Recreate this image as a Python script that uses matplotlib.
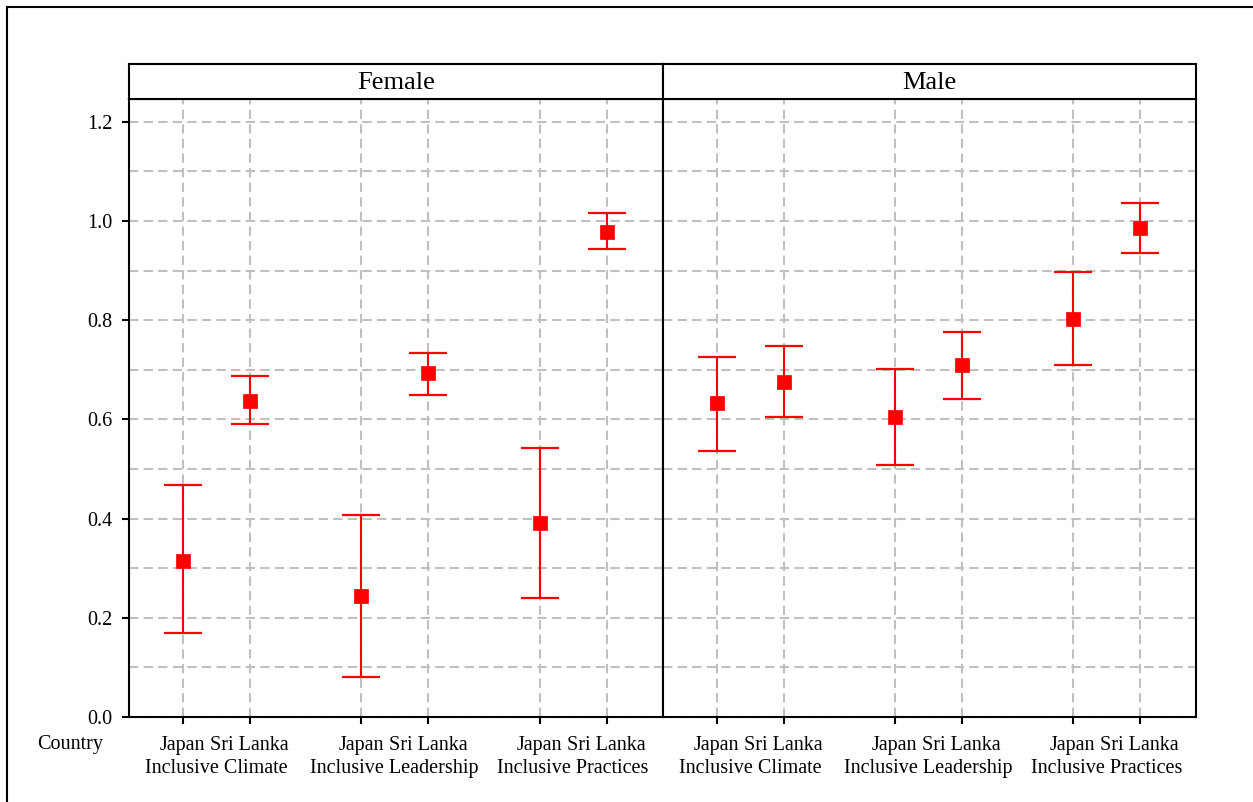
import numpy as np
import matplotlib
matplotlib.use("Agg")
import matplotlib.pyplot as plt
from matplotlib.lines import Line2D

plt.rcParams['font.family'] = ['Liberation Serif', 'DejaVu Serif']

# ---- data ----
panels = ["Female", "Male"]
categories = ["Inclusive Climate", "Inclusive Leadership", "Inclusive Practices"]
countries = ["Japan", "Sri Lanka"]

female_mean = [0.315, 0.638, 0.244, 0.693, 0.391, 0.978]
female_lower = [0.169, 0.591, 0.081, 0.650, 0.240, 0.944]
female_upper = [0.467, 0.688, 0.407, 0.734, 0.542, 1.016]

male_mean = [0.634, 0.675, 0.604, 0.709, 0.802, 0.986]
male_lower = [0.537, 0.604, 0.508, 0.642, 0.709, 0.936]
male_upper = [0.726, 0.747, 0.701, 0.776, 0.898, 1.036]

y_ticks = [0.0, 0.2, 0.4, 0.6, 0.8, 1.0, 1.2]
y_tick_labels = ["0.0", "0.2", "0.4", "0.6", "0.8", "1.0", "1.2"]

series = {
    "Female": (female_mean, female_lower, female_upper),
    "Male": (male_mean, male_lower, male_upper),
}

W, H = 1253, 802
fig = plt.figure(figsize=(W / 100, H / 100), dpi=100)

# positions
group_gap = 2.66
xpos = []
for g in range(len(categories)):
    for c in range(len(countries)):
        xpos.append(g * group_gap + c)
xpos = np.array(xpos)
xlim = (-0.80, 7.16)
ylim = (0.0, 1.246)

RED = "#ff0000"
GRID = "#c0c0c0"

panel_px = [(129, 663), (663, 1196)]
top_px, bot_px = 99, 717
strip_top_px = 64

for i, (name, (x0, x1)) in enumerate(zip(panels, panel_px)):
    ax = fig.add_axes([x0 / W, 1 - bot_px / H, (x1 - x0) / W, (bot_px - top_px) / H])
    mean, lo, hi = series[name]
    mean = np.array(mean); lo = np.array(lo); hi = np.array(hi)
    line, caps, bars = ax.errorbar(xpos, mean, yerr=[mean - lo, hi - mean], fmt='s',
                                   color=RED, ecolor=RED, elinewidth=1.5, capsize=13.5,
                                   capthick=1.6, markersize=10.5, zorder=3)
    line.set_markeredgewidth(0.5)
    ax.set_xlim(*xlim)
    ax.set_ylim(*ylim)
    ax.set_yticks(y_ticks)
    ax.set_yticks(np.round(np.arange(0.1, 1.21, 0.2), 2), minor=True)
    ax.set_xticks(xpos)
    ax.set_xticklabels(countries * len(categories), fontsize=14.5)
    ax.set_axisbelow(True)
    ax.grid(True, which='both', axis='both', color=GRID, linestyle=(0, (4.5, 2.5)),
            linewidth=1.5)
    ax.tick_params(axis='x', direction='out', length=5, width=1.5, pad=8.5)
    ax.tick_params(axis='y', which='major', direction='out', length=5, width=1.5, pad=7,
                   labelsize=14.5)
    ax.tick_params(axis='y', which='minor', length=0)
    if i == 0:
        ax.set_yticklabels(y_tick_labels)
    else:
        ax.tick_params(axis='y', which='both', left=False, labelleft=False)
    for sp in ax.spines.values():
        sp.set_linewidth(1.5)
        sp.set_color("black")
    # group labels
    for g, cat in enumerate(categories):
        xc = (xpos[2 * g] + xpos[2 * g + 1]) / 2
        ax.text(xc, -0.083, cat, transform=ax.get_xaxis_transform(),
                ha='center', va='center', fontsize=14.5)
    # strip
    sax = fig.add_axes([x0 / W, 1 - top_px / H, (x1 - x0) / W, (top_px - strip_top_px) / H])
    sax.set_xticks([]); sax.set_yticks([])
    for sp in sax.spines.values():
        sp.set_linewidth(1.5)
    sax.text(0.5, 0.47, name, ha='center', va='center', fontsize=19,
             transform=sax.transAxes)

fig.text(70 / W, 1 - 744 / H, "Country", ha='center', va='center', fontsize=14.5)

# outer frame
fig.add_artist(Line2D([7 / W, 7 / W], [0, 1 - 7 / H], transform=fig.transFigure,
                      color='black', linewidth=1.5))
fig.add_artist(Line2D([7 / W, 1], [1 - 7 / H, 1 - 7 / H], transform=fig.transFigure,
                      color='black', linewidth=1.5))

fig.savefig("out.png", dpi=100)
